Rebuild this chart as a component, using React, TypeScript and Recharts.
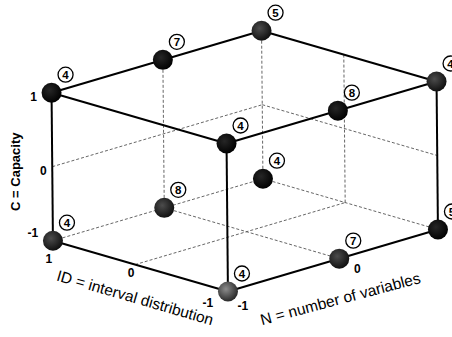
import { ReferenceLine, Scatter, ScatterChart, XAxis, YAxis } from "recharts"

const W = 452
const H = 337

// design points of the cube: interval distribution, number of variables, capacity, count
const POINT_ID = [1, 1, 1, -1, -1, -1, 1, 1, 1, -1, -1, -1]
const POINT_N = [-1, 0, 1, -1, 0, 1, -1, 0, 1, -1, 0, 1]
const POINT_C = [1, 1, 1, 1, 1, 1, -1, -1, -1, -1, -1, -1]
const POINT_COUNT = [4, 7, 5, 4, 8, 4, 4, 8, 4, 4, 7, 5]

const ID_TICKS = [1, 0, -1]
const N_TICKS = [-1, 0]
const C_TICKS = [1, 0, -1]

const ID_TITLE = "ID = interval distribution"
const N_TITLE = "N = number of variables"
const C_TITLE = "C = Capacity"

// view: screen position of the cube centre and the screen vector of one unit along each axis
const ORIGIN = [244.75, 161.1]
const E_ID = [-87.5, -25.4]
const E_N = [105, -31]
const E_C = [-0.7, -74]
const SKEW = 0.128 // slight foreshortening of the floor axes

const FONT = "Arial, 'Liberation Sans', Helvetica, sans-serif"

type V3 = [number, number, number]
type Pt = { x: number; y: number }

const warp = (v: number) => {
  const t = (v + 1) / 2
  return (2 * t * (1 + SKEW)) / (1 + SKEW * t) - 1
}

const project = ([id, n, c]: V3): Pt => {
  const a = warp(id)
  const b = warp(n)
  return {
    x: ORIGIN[0] + a * E_ID[0] + b * E_N[0] + c * E_C[0],
    y: ORIGIN[1] + a * E_ID[1] + b * E_N[1] + c * E_C[1],
  }
}

const shift = (p: Pt, d: number[]): Pt => ({ x: p.x + d[0], y: p.y + d[1] })

const angleOf = (from: V3, to: V3) => {
  const a = project(from)
  const b = project(to)
  return (Math.atan2(b.y - a.y, b.x - a.x) * 180) / Math.PI
}

// visible box edges
const SOLID_EDGES: [V3, V3][] = [
  [[1, -1, 1], [1, 1, 1]],
  [[1, 1, 1], [-1, 1, 1]],
  [[-1, 1, 1], [-1, -1, 1]],
  [[-1, -1, 1], [1, -1, 1]],
  [[1, -1, -1], [1, -1, 1]],
  [[-1, -1, -1], [-1, -1, 1]],
  [[-1, 1, -1], [-1, 1, 1]],
  [[1, -1, -1], [-1, -1, -1]],
  [[-1, -1, -1], [-1, 1, -1]],
]

// hidden edges and grid lines on the back walls and floor
const DASHED_EDGES: [V3, V3][] = [
  [[1, 1, -1], [1, 1, 1]],
  [[1, -1, -1], [1, 1, -1]],
  [[1, 1, -1], [-1, 1, -1]],
  [[0, -1, -1], [0, 1, -1]],
  [[1, 0, -1], [-1, 0, -1]],
  [[1, -1, 0], [1, 1, 0]],
  [[1, 0, -1], [1, 0, 1]],
  [[1, 1, 0], [-1, 1, 0]],
  [[0, 1, -1], [0, 1, 1]],
]

const BALL_FILL: Record<string, string> = {
  "1,1,1": "url(#ballMid)",
  "-1,1,1": "url(#ballMid)",
  "1,-1,-1": "url(#ballMid)",
  "1,0,-1": "url(#ballMid)",
  "-1,0,-1": "url(#ballMid)",
  "-1,-1,-1": "url(#ballLight)",
}

const LABEL_OFFSET = [14, -18]

const TICK_NUDGE: Record<string, Record<string, number[]>> = {
  c: { "1": [-18, 4], "0": [-9, 4], "-1": [-20, -8] },
  id: { "1": [-4, 18], "0": [-4, 8], "-1": [-20, 11] },
  n: { "-1": [15, 14], "0": [18, 10] },
}

const designPoints = POINT_COUNT.map((count, i) => {
  const v: V3 = [POINT_ID[i], POINT_N[i], POINT_C[i]]
  return { ...project(v), count, key: v.join(",") }
})

const tickLabels = [
  ...C_TICKS.map((c) => ({ ...shift(project([1, -1, c]), TICK_NUDGE.c[String(c)]), text: String(c) })),
  ...ID_TICKS.map((id) => ({ ...shift(project([id, -1, -1]), TICK_NUDGE.id[String(id)]), text: String(id) })),
  ...N_TICKS.map((n) => ({ ...shift(project([-1, n, -1]), TICK_NUDGE.n[String(n)]), text: String(n) })),
]

const titles = [
  { ...shift(project([0, -1, -1]), [0, 33]), text: ID_TITLE, angle: angleOf([1, -1, -1], [-1, -1, -1]), bold: false },
  { ...shift(project([-1, 0, -1]), [1, 40]), text: N_TITLE, angle: angleOf([-1, -1, -1], [-1, 1, -1]) + 1.5, bold: false },
  { ...shift(project([1, -1, 0]), [-37, 5]), text: C_TITLE, angle: -90, bold: true },
]

const Ball = (props: any) => {
  const { cx, cy, payload } = props
  const lx = cx + LABEL_OFFSET[0]
  const ly = cy + LABEL_OFFSET[1]
  return (
    <g>
      <circle cx={cx} cy={cy} r={10} fill={BALL_FILL[payload.key] ?? "url(#ballDark)"} />
      <circle cx={lx} cy={ly} r={7.5} fill="#fff" stroke="#000" strokeWidth={1.3} />
      <text
        x={lx}
        y={ly}
        textAnchor="middle"
        dominantBaseline="central"
        fontFamily={FONT}
        fontWeight="bold"
        fontSize={11.5}
        fill="#000"
      >
        {payload.count}
      </text>
    </g>
  )
}

const TickText = (props: any) => {
  const { cx, cy, payload } = props
  return (
    <text
      x={cx}
      y={cy}
      textAnchor="middle"
      dominantBaseline="central"
      fontFamily={FONT}
      fontWeight="bold"
      fontSize={12}
      fill="#000"
    >
      {payload.text}
    </text>
  )
}

const TitleText = (props: any) => {
  const { cx, cy, payload } = props
  return (
    <text
      x={cx}
      y={cy}
      textAnchor="middle"
      dominantBaseline="central"
      transform={`rotate(${payload.angle} ${cx} ${cy})`}
      fontFamily={FONT}
      fontWeight={payload.bold ? "bold" : "normal"}
      fontSize={payload.bold ? 13 : 15.5}
      fill="#000"
    >
      {payload.text}
    </text>
  )
}

export default function App() {
  return (
    <div style={{ position: "absolute", left: 0, top: 0, width: W, height: H, background: "#fff" }}>
      <ScatterChart width={W} height={H} margin={{ top: 0, right: 0, bottom: 0, left: 0 }}>
        <defs>
          <radialGradient id="ballDark" cx="40%" cy="38%" r="65%">
            <stop offset="0%" stopColor="#262626" />
            <stop offset="100%" stopColor="#000" />
          </radialGradient>
          <radialGradient id="ballMid" cx="40%" cy="38%" r="65%">
            <stop offset="0%" stopColor="#4c4c4c" />
            <stop offset="100%" stopColor="#0e0e0e" />
          </radialGradient>
          <radialGradient id="ballLight" cx="40%" cy="38%" r="65%">
            <stop offset="0%" stopColor="#8c8c8c" />
            <stop offset="100%" stopColor="#262626" />
          </radialGradient>
        </defs>
        <XAxis type="number" dataKey="x" domain={[0, W]} allowDataOverflow hide />
        <YAxis type="number" dataKey="y" domain={[0, H]} allowDataOverflow reversed hide />
        {DASHED_EDGES.map(([a, b], i) => (
          <ReferenceLine
            key={`d${i}`}
            segment={[project(a), project(b)]}
            stroke="#555"
            strokeWidth={0.9}
            strokeDasharray="3 2"
            ifOverflow="visible"
          />
        ))}
        {SOLID_EDGES.map(([a, b], i) => (
          <ReferenceLine
            key={`s${i}`}
            segment={[project(a), project(b)]}
            stroke="#000"
            strokeWidth={2}
            ifOverflow="visible"
          />
        ))}
        <Scatter data={tickLabels} shape={TickText} isAnimationActive={false} />
        <Scatter data={titles} shape={TitleText} isAnimationActive={false} />
        <Scatter data={designPoints} shape={Ball} isAnimationActive={false} />
      </ScatterChart>
    </div>
  )
}
